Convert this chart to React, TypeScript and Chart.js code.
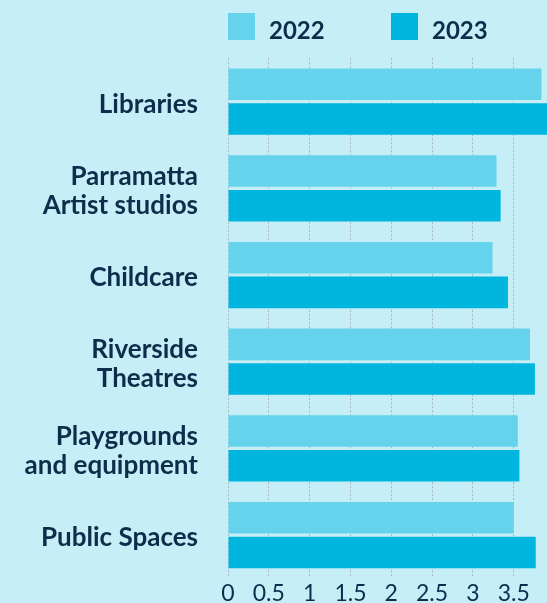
import { useEffect, useRef } from "react";
import { Chart, registerables } from "chart.js";

Chart.register(...registerables);

const categories: string[][] = [
  ["Libraries"],
  ["Parramatta", "Artist studios"],
  ["Childcare"],
  ["Riverside", "Theatres"],
  ["Playgrounds", "and equipment"],
  ["Public Spaces"],
];
const seriesNames = ["2022", "2023"];
const values2022 = [3.84, 3.29, 3.24, 3.7, 3.55, 3.5];
const values2023 = [3.95, 3.34, 3.43, 3.76, 3.57, 3.77];
const xMin = 0;
const xMax = 4;
const xStep = 0.5;

const BG = "#c6eef7";
const C2022 = "#64d3eb";
const C2023 = "#00b6de";
const TEXT = "#0d2d4b";
const GRID = "#a9b4bb";
const FONT = "Lato";

const legendPlugin = {
  id: "customLegend",
  afterDraw(chart: any) {
    const { ctx, chartArea } = chart;
    chart.data.datasets.forEach((ds: any, i: number) => {
      const x = chartArea.left + i * 163;
      ctx.save();
      ctx.fillStyle = ds.backgroundColor;
      ctx.fillRect(x, 13, 27, 27);
      ctx.fillStyle = TEXT;
      ctx.font = `bold 24px ${FONT}`;
      ctx.textBaseline = "alphabetic";
      ctx.textAlign = "left";
      ctx.fillText(ds.label, x + 27 + 14, 39.3);
      ctx.restore();
    });
  },
};

export default function App() {
  const ref = useRef<HTMLCanvasElement | null>(null);

  useEffect(() => {
    if (!ref.current) return;
    const chart = new Chart(ref.current, {
      type: "bar",
      data: {
        labels: categories,
        datasets: [
          {
            label: seriesNames[0],
            data: values2022,
            backgroundColor: C2022,
            borderWidth: 0,
            barPercentage: 0.91,
            categoryPercentage: 0.8,
          },
          {
            label: seriesNames[1],
            data: values2023,
            backgroundColor: C2023,
            borderWidth: 0,
            barPercentage: 0.91,
            categoryPercentage: 0.8,
          },
        ],
      },
      options: {
        indexAxis: "y",
        animation: false,
        responsive: true,
        maintainAspectRatio: false,
        layout: { padding: { top: 58.3, left: 0, right: 25.5, bottom: 0 } },
        plugins: {
          legend: { display: false },
          tooltip: { enabled: false },
        },
        scales: {
          x: {
            min: xMin,
            max: xMax,
            ticks: {
              stepSize: xStep,
              color: TEXT,
              font: { family: FONT, size: 23, weight: "normal" },
              padding: 1,
              callback: (v: any) => String(Number(v)),
            },
            grid: { color: GRID, lineWidth: 1, drawTicks: false },
            border: { display: false, dash: [2, 2] },
            afterFit: (scale: any) => {
              scale.height = 40;
            },
          },
          y: {
            grid: { display: false, drawTicks: false },
            border: { display: false },
            ticks: {
              color: TEXT,
              font: { family: FONT, size: 26, weight: "bold", lineHeight: 1.12 },
              padding: 30,
              labelOffset: 2.5,
            },
            afterFit: (scale: any) => {
              scale.width = 228;
            },
          },
        },
      },
      plugins: [legendPlugin],
    });
    return () => chart.destroy();
  }, []);

  return (
    <div
      style={{
        position: "absolute",
        left: 0,
        top: 0,
        width: 547,
        height: 603,
        overflow: "hidden",
        background: BG,
      }}
    >
      <div style={{ position: "relative", width: 580, height: 623 }}>
        <canvas ref={ref} />
      </div>
    </div>
  );
}
